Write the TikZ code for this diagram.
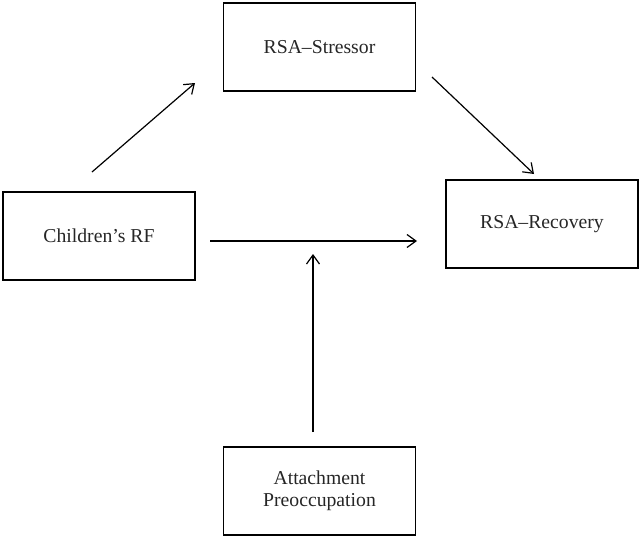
\documentclass[tikz,border=0pt]{standalone}
\usepackage{fontspec}
\setmainfont{Liberation Serif}
\usetikzlibrary{arrows.meta}
\begin{document}
\begin{tikzpicture}[x=1pt,y=1pt,
  box/.style={draw=black,line width=1.4pt,minimum width=192pt,minimum height=88pt,inner sep=0pt,align=center,
    font=\fontsize{19.7pt}{22pt}\selectfont,text=black!85},
  arr/.style={line width=1.2pt,-{Straight Barb[length=9pt,width=13pt,line width=1.2pt]}}]
\useasboundingbox (0,0) rectangle (641,-538);
\node[box] (str) at (319.5,-47) {RSA–Stressor};
\node[box] (rf) at (99,-236) {Children’s RF};
\node[box] (rec) at (542,-224) {RSA–Recovery};
\node[box] (att) at (319.5,-491) {Attachment\\Preoccupation};
\coordinate (a1s) at (92,-172);
\coordinate (a1e) at (195,-83);
\coordinate (a2s) at (432,-77);
\coordinate (a2e) at (534,-174);
\coordinate (a3s) at (210,-241);
\coordinate (a3e) at (417,-241);
\coordinate (a4s) at (313,-432);
\coordinate (a4e) at (313,-254);
\draw[arr] (a1s) -- (a1e);
\draw[arr] (a2s) -- (a2e);
\draw[arr] (a3s) -- (a3e);
\draw[arr] (a4s) -- (a4e);
\end{tikzpicture}
\end{document}
